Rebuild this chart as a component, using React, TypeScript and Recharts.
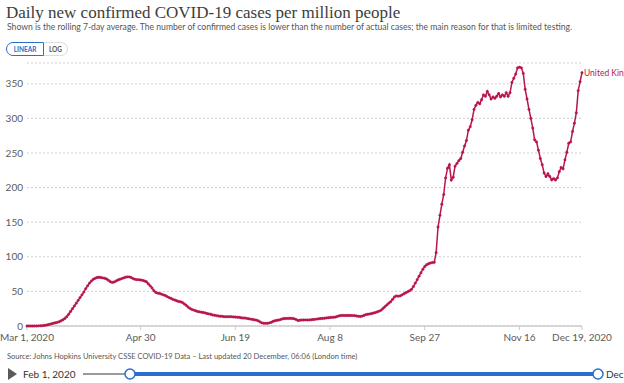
import { LineChart, Line, XAxis, YAxis, CartesianGrid } from "recharts";

// 7-day rolling average, daily new confirmed cases per million, United Kingdom
// one value per day, Mar 1 2020 .. Dec 19 2020
const marValues = [0, 0, 0, 0, 0.1, 0.1, 0.2, 0.3, 0.5, 0.8, 1.2, 1.8, 2.5, 3.2, 4, 4.6, 5.3, 6.2, 7.5, 9, 11, 13.5, 17, 21, 25, 29, 33, 37, 41, 45, 49];
const aprValues = [54, 58, 62, 65, 67.5, 69, 70, 70.5, 70, 69.5, 69, 68, 66, 64, 63, 63.5, 65, 66.5, 67.5, 68.5, 69.5, 70.5, 71, 71, 70, 68.5, 67.5, 67, 67, 66.5];
const mayValues = [66, 65, 64, 61, 58, 55, 51, 48.5, 47.5, 47, 46, 45, 44, 42.5, 41, 40, 38.5, 37.5, 36.5, 35.5, 35, 34, 32, 30, 27.5, 25.5, 24, 23, 22, 21, 20.5];
const junValues = [20, 19.5, 19, 18, 17.5, 17, 16, 15.5, 15, 14.5, 14, 14, 13.5, 13.5, 13.5, 13.5, 13.5, 13, 13, 12.5, 12.5, 12, 11.5, 11.5, 11, 10.5, 10, 9.5, 9, 8.5];
const julValues = [7.5, 6, 4.5, 4, 3.8, 3.9, 4.5, 5.5, 6.8, 7.7, 8.2, 8.6, 9.5, 10.5, 10.8, 11, 11, 11.2, 11, 10.5, 9.5, 8, 8.3, 8.7, 8.7, 8.8, 8.7, 8.8, 9, 9.3, 9.6];
const augValues = [10, 10.5, 10.8, 11, 11.3, 11.6, 12, 12.2, 12.5, 12.6, 13, 14, 14.8, 15.3, 15.3, 15.2, 15.2, 15.3, 15.1, 15, 15, 14.5, 14, 13.8, 14.3, 15.5, 16.5, 17, 17.5, 18, 18.8];
const sepValues = [19.5, 20.5, 21.5, 23, 25.5, 28, 30.5, 33, 35, 38.5, 42, 43.5, 43, 43.5, 45, 46.5, 48, 49.5, 51, 53, 57, 62, 67, 72, 77, 82, 86, 88.5, 90, 91];
const octValues = [91.6, 92, 106, 143, 160, 176, 190, 214, 228, 233, 211, 215, 231, 235, 239, 242, 251, 260, 268, 283, 288, 298, 313, 319, 323, 321, 327, 334, 332, 339, 334];
const novValues = [328, 331, 329, 332, 336, 331, 334, 332, 337, 332, 337, 352, 358, 364, 373, 374, 373, 365, 342, 328, 313, 300, 286, 269, 266, 254, 242, 233, 221, 216];
const decValues = [220, 216, 211, 213, 211, 214, 223, 229, 227, 240, 251, 264, 266, 281, 293, 308, 340, 353, 366];

const yTicks = [0, 50, 100, 150, 200, 250, 300, 350];
const xTickDays = [0, 60, 110, 160, 210, 260, 293];
const xTickLabels = ["Mar 1, 2020", "Apr 30", "Jun 19", "Aug 8", "Sep 27", "Nov 16", "Dec 19, 2020"];
const seriesName = "United Kingdom";

const values = [
  ...marValues, ...aprValues, ...mayValues, ...junValues, ...julValues,
  ...augValues, ...sepValues, ...octValues, ...novValues, ...decValues,
];
const data = values.map((v, i) => ({ day: i, cases: v }));

const LINE_COLOR = "#b8174a";
const BLUE = "#2a6fc9";

// only the last point gets the country label (it runs off the right edge, like the original)
const renderEndLabel = (props: any) => {
  const { x, y, index } = props;
  if (index !== data.length - 1) return null;
  return (
    <text x={x + 2} y={y + 3} fill={LINE_COLOR} fontSize={8.5} fontFamily="Lato">
      {seriesName}
    </text>
  );
};

const App = () => {
  return (
    <div
      style={{
        position: "absolute",
        left: 0,
        top: 0,
        width: 624,
        height: 383,
        background: "#fff",
        overflow: "hidden",
        fontFamily: "Lato, sans-serif",
      }}
    >
      <div
        style={{
          position: "absolute",
          left: 6,
          top: 3,
          fontFamily: "'Liberation Serif', serif",
          fontSize: 17,
          color: "#3d3d3d",
          whiteSpace: "nowrap",
        }}
      >
        Daily new confirmed COVID-19 cases per million people
      </div>
      <div
        style={{
          position: "absolute",
          left: 7,
          top: 22,
          fontSize: 8.6,
          color: "#555",
          whiteSpace: "nowrap",
        }}
      >
        Shown is the rolling 7-day average. The number of confirmed cases is lower than the number of actual cases; the main reason for that is limited testing.
      </div>

      {/* scale toggle */}
      <div style={{ position: "absolute", left: 6, top: 42, display: "flex", fontSize: 6.5, fontWeight: 700 }}>
        <div
          style={{
            width: 36,
            height: 12,
            border: `1px solid ${BLUE}`,
            borderRadius: "7px 0 0 7px",
            color: BLUE,
            display: "flex",
            alignItems: "center",
            justifyContent: "center",
          }}
        >
          LINEAR
        </div>
        <div
          style={{
            width: 23,
            height: 12,
            border: "1px solid #ddd",
            borderLeft: "none",
            borderRadius: "0 7px 7px 0",
            color: "#555",
            display: "flex",
            alignItems: "center",
            justifyContent: "center",
          }}
        >
          LOG
        </div>
      </div>

      <div style={{ position: "absolute", left: 0, top: 0 }}>
        <LineChart width={624} height={383} data={data} margin={{ top: 63, right: 42, bottom: 27, left: 0 }}>
          <CartesianGrid vertical={false} stroke="#cfcfcf" strokeDasharray="2 2" />
          <XAxis
            type="number"
            dataKey="day"
            domain={[0, 293]}
            ticks={xTickDays}
            tickFormatter={(d: number) => xTickLabels[xTickDays.indexOf(d)]}
            height={30}
            interval={0}
            axisLine={{ stroke: "#ccc", strokeWidth: 1.5 }}
            tickLine={{ stroke: "#ccc" }}
            tickSize={4}
            tickMargin={4}
            tick={{ fill: "#5b5b5b", fontSize: 10, fontFamily: "Lato" }}
          />
          <YAxis
            type="number"
            domain={[0, 380]}
            ticks={yTicks}
            width={27}
            axisLine={false}
            tickLine={false}
            tickSize={0}
            tickMargin={4}
            tick={{ fill: "#5b5b5b", fontSize: 10, fontFamily: "Lato" }}
          />
          <Line
            type="linear"
            dataKey="cases"
            name={seriesName}
            stroke={LINE_COLOR}
            strokeWidth={1.5}
            dot={{ r: 1.2, fill: LINE_COLOR, stroke: LINE_COLOR, strokeWidth: 0.5 }}
            isAnimationActive={false}
            label={renderEndLabel}
          />
        </LineChart>
      </div>

      <div
        style={{
          position: "absolute",
          left: 7,
          top: 352,
          fontSize: 7.5,
          color: "#555",
          whiteSpace: "nowrap",
        }}
      >
        Source: Johns Hopkins University CSSE COVID-19 Data – Last updated 20 December, 06:06 (London time)
      </div>

      {/* timeline slider, end label runs off the edge as in the original */}
      <svg style={{ position: "absolute", left: 0, top: 362 }} width={624} height={21}>
        <polygon points="8,6 17,12 8,18" fill="#5a5a5a" />
        <text x={23} y={16} fontSize={10} fill="#333" fontFamily="Lato">
          Feb 1, 2020
        </text>
        <line x1={83} x2={130} y1={12} y2={12} stroke="#9a9a9a" strokeWidth={2} />
        <line x1={130} x2={598} y1={12} y2={12} stroke={BLUE} strokeWidth={4} />
        <circle cx={130} cy={12} r={5} fill="#fff" stroke={BLUE} strokeWidth={1.5} />
        <circle cx={598} cy={12} r={5} fill="#fff" stroke={BLUE} strokeWidth={1.5} />
        <text x={606} y={16} fontSize={10} fill="#333" fontFamily="Lato">
          Dec 19, 2020
        </text>
      </svg>
    </div>
  );
};

export default App;
